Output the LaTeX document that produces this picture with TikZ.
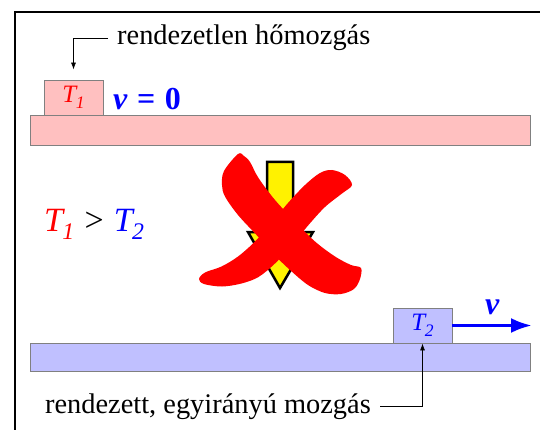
\documentclass[tikz,border=0pt]{standalone}
\usepackage{fontspec}
\setmainfont{Liberation Serif}
\usetikzlibrary{arrows.meta}
\definecolor{warmfill}{HTML}{FFC0C0}
\definecolor{coolfill}{HTML}{C0C0FF}
\newcommand\Tidx[1]{\textit{T\kern-0.02em\raisebox{-0.22em}{\scalebox{0.7}{#1}}}}
\begin{document}
\begin{tikzpicture}[x=1pt,y=-1pt,
 bar/.style={draw=black!50,line width=.8pt},
 body/.style={draw=black!50,line width=.8pt,minimum width=59pt,minimum height=35pt,inner sep=0pt,font=\fontsize{25}{28}\selectfont},
 note/.style={inner xsep=9pt,inner ysep=0pt,font=\fontsize{28.4}{32}\selectfont},
 conn/.style={-{Latex[length=7pt,width=5pt]},line width=.8pt},
 big/.style={font=\fontsize{32}{36}\selectfont\bfseries\itshape,text=blue,inner sep=0pt}]
\useasboundingbox (0,0) rectangle (540,430);
\draw[line width=2pt] (15,430) -- (15,12) -- (540,12);
\draw[bar,fill=warmfill] (30,115) rectangle (530,145);
\draw[bar,fill=coolfill] (30,343) rectangle (530,371);
\node[body,fill=warmfill,text=red] (warm) at (73.5,97.5) {\Tidx1};
\node[body,fill=coolfill,text=blue] (cool) at (422.5,325.5) {\Tidx2};
\node[note,anchor=base west] (chaotic) at (108,45) {rendezetlen hőmozgás};
\node[note,anchor=base east] (ordered) at (380,413) {rendezett, egyirányú mozgás};
\draw[conn,shorten >=10pt] (chaotic.west) -| (warm.north);
\draw[conn] (ordered.east) -| (cool.south);
\node[big,anchor=base west] (rest) at (113,110) {v\hspace{.3em}{\upshape=\hspace{.3em}0}};
\node[anchor=base west,inner sep=0pt,font=\fontsize{34}{38}\selectfont] (cond) at (44,232)
 {\textcolor{red}{\Tidx1}\hspace{.3em}>\hspace{.3em}\textcolor{blue}{\Tidx2}};
\coordinate (head) at (532,325.5);
\draw[blue,line width=3.5pt,-{Latex[length=21pt,width=15pt]}] (cool.east) -- (head)
 node[midway,above=9pt,big] (speed) {v};
\draw[fill=yellow,line width=2.5pt,line join=miter] (267,162) -- (293,162) -- (293,232)
 -- (313,232) -- (280,288) -- (248,232) -- (267,232) -- cycle;
\fill[red] plot[smooth cycle,tension=.55] coordinates {(238,154) (244,156) (250,162)
 (258.5,178) (275,200) (295,221.5) (315,241.5) (335,256.5) (351,265) (361,268)
 (360,279) (354,289) (341,294) (325,293) (308,285) (290,270) (273,253.5) (256.5,235)
 (238,215) (225,196.5) (222,185) (224,171)};
\fill[red] plot[smooth cycle,tension=.55] coordinates {(332,170) (345,175) (352,185)
 (342,193.5) (325,207) (308.5,225) (292,245) (275,263.5) (258.5,277) (241.5,283.5)
 (222,286.5) (204,284) (199,279) (205,272.5) (221.5,266.5) (238,256.5) (255,241.5)
 (271.5,223) (288,203) (305,185) (320,173)};
\end{tikzpicture}
\end{document}
